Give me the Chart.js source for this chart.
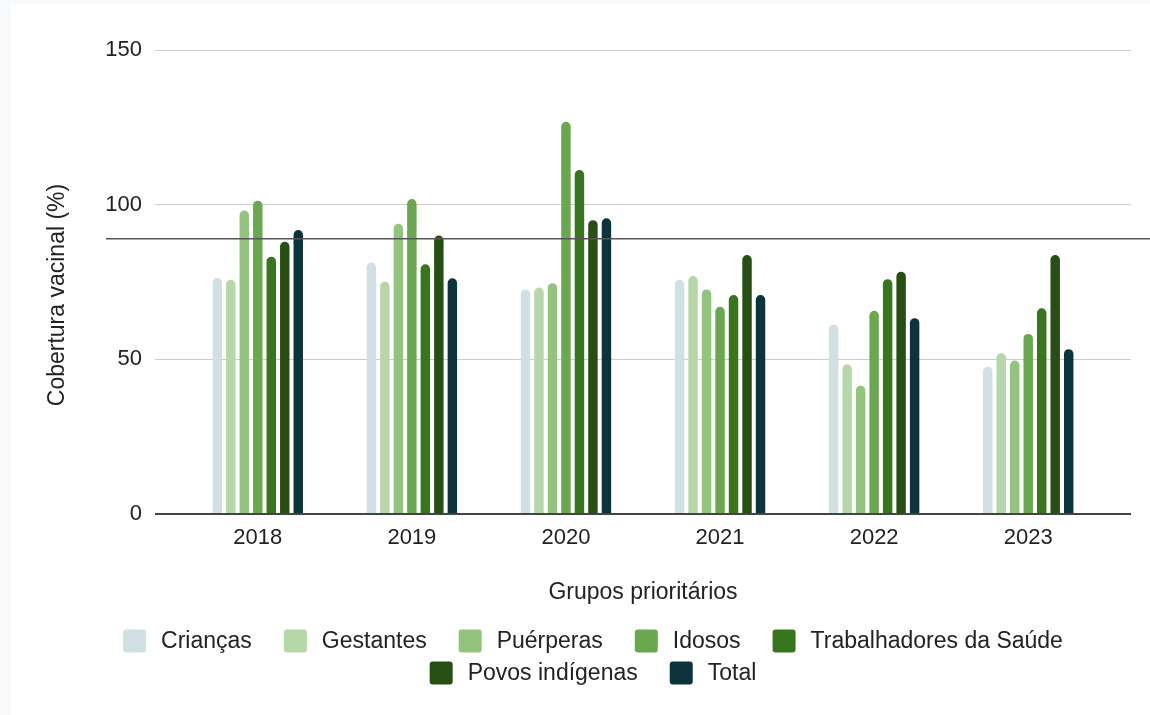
<!DOCTYPE html>
<html lang="pt">
<head>
  <meta charset="UTF-8">
  <title>Cobertura vacinal por grupos prioritários</title>
  <script src="https://cdn.jsdelivr.net/npm/chart.js"></script>
  <style>
    html, body { margin: 0; padding: 0; background: #f8f9fa; }
    #wrap { position: absolute; left: 11px; top: 4px; width: 1139px; height: 711px; background: #fff; }
  </style>
</head>
<body>
  <div id="wrap"><canvas id="chart" width="1139" height="711"></canvas></div>
  <script>
    // dados
    const anos = [2018, 2019, 2020, 2021, 2022, 2023];
    const criancas = [76.3, 81.3, 72.6, 75.7, 61.3, 47.6];
    const gestantes = [75.7, 75.1, 73.2, 76.9, 48.4, 52.0];
    const puerperas = [98.1, 93.8, 74.6, 72.6, 41.5, 49.6];
    const idosos = [101.3, 101.8, 126.8, 67.0, 65.7, 58.2];
    const trabalhadores = [83.2, 80.7, 111.2, 70.8, 75.9, 66.5];
    const indigenas = [88.0, 90.0, 95.0, 83.7, 78.3, 83.7];
    const total = [91.8, 76.2, 95.6, 70.8, 63.3, 53.3];
    const yTicks = [0, 50, 100, 150];
    const meta = 89;

    const FONT = "'Liberation Sans', Arial, sans-serif";
    const series = [
      ['Crianças', criancas, '#d0e0e3'],
      ['Gestantes', gestantes, '#b6d7a8'],
      ['Puérperas', puerperas, '#93c47d'],
      ['Idosos', idosos, '#6aa84f'],
      ['Trabalhadores da Saúde', trabalhadores, '#38761d'],
      ['Povos indígenas', indigenas, '#274e13'],
      ['Total', total, '#0c343d']
    ];

    const datasets = series.map(([label, vals, color]) => ({
      label,
      data: anos.map((a, i) => ({ x: a, y: vals[i] })),
      backgroundColor: color,
      borderRadius: { topLeft: 5, topRight: 5, bottomLeft: 0, bottomRight: 0 },
      borderSkipped: false,
      categoryPercentage: 0.613,
      barPercentage: 0.70
    }));

    // linha de meta + titulo do eixo y + legenda
    const extras = {
      id: 'extras',
      afterDatasetsDraw(chart) {
        const ctx = chart.ctx;
        const y = chart.scales.y.getPixelForValue(meta);
        ctx.save();
        ctx.strokeStyle = '#555';
        ctx.lineWidth = 1.5;
        ctx.beginPath();
        ctx.moveTo(95, y);
        ctx.lineTo(chart.width, y);
        ctx.stroke();
        ctx.restore();
      },
      afterDraw(chart) {
        const ctx = chart.ctx;
        ctx.save();
        ctx.fillStyle = '#222';
        ctx.font = '23px ' + FONT;
        ctx.textAlign = 'center';
        ctx.textBaseline = 'middle';
        ctx.translate(47, 291);
        ctx.rotate(-Math.PI / 2);
        ctx.fillText('Cobertura vacinal (%)', 0, 0);
        ctx.restore();

        ctx.save();
        ctx.font = '23px ' + FONT;
        ctx.textBaseline = 'middle';
        const rows = [[0, 1, 2, 3, 4], [5, 6]];
        const rowY = [637, 669];
        const box = 23, gap = 15, step = 32, cx = 582;
        rows.forEach((row, r) => {
          const widths = row.map(i => box + gap + ctx.measureText(series[i][0]).width);
          const full = widths.reduce((a, b) => a + b, 0) + step * (row.length - 1);
          let x = cx - full / 2;
          row.forEach((i, k) => {
            ctx.fillStyle = series[i][2];
            ctx.beginPath();
            ctx.roundRect(x, rowY[r] - box / 2, box, box, 3);
            ctx.fill();
            ctx.fillStyle = '#222';
            ctx.fillText(series[i][0], x + box + gap, rowY[r] + 1);
            x += widths[k] + step;
          });
        });
        ctx.restore();
      }
    };

    new Chart(document.getElementById('chart'), {
      type: 'bar',
      data: { datasets },
      plugins: [extras],
      options: {
        responsive: false,
        animation: false,
        layout: { padding: { left: 0, top: 46, right: 19, bottom: 101 } },
        plugins: { legend: { display: false }, tooltip: { enabled: false } },
        scales: {
          x: {
            type: 'linear',
            offset: false,
            min: anos[0] - 0.667,
            max: anos[anos.length - 1] + 0.667,
            afterBuildTicks: s => { s.ticks = anos.map(v => ({ value: v })); },
            afterFit: s => { s.height = 100; },
            grid: { display: false },
            border: { display: false },
            ticks: { color: '#222', font: { family: FONT, size: 22 }, padding: 3, callback: v => String(v) },
            title: { display: true, text: 'Grupos prioritários', color: '#222', font: { family: FONT, size: 23 }, padding: { top: 0, bottom: 8 } }
          },
          y: {
            min: 0,
            max: 150,
            afterBuildTicks: s => { s.ticks = yTicks.map(v => ({ value: v })); },
            afterFit: s => { s.width = 144; },
            grid: {
              drawTicks: false,
              color: c => c.tick && c.tick.value === 0 ? '#444' : '#ccc',
              lineWidth: c => c.tick && c.tick.value === 0 ? 2 : 1
            },
            border: { display: false },
            ticks: { color: '#222', font: { family: FONT, size: 22 }, padding: 13 }
          }
        }
      }
    });
  </script>
</body>
</html>
